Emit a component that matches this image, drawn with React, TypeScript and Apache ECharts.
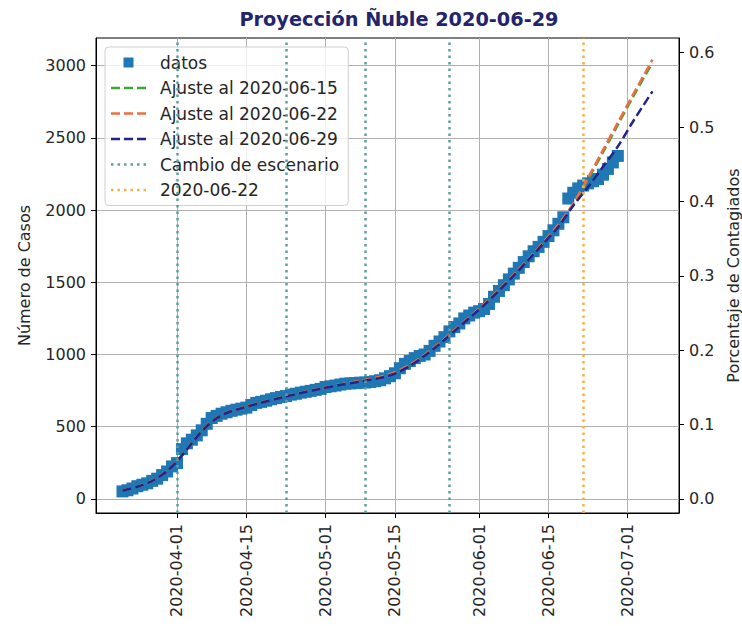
import React, { useEffect, useRef } from 'react';
import * as echarts from 'echarts';

// ---- Datos ----
const inicioDatos = '2020-03-21';
const casos = [
  52, 60, 72, 88, 98, 108, 125, 140, 165, 190, 225,
  248, 345, 385, 410, 440, 475, 520, 560, 575, 590,
  600, 610, 618, 625, 632, 650, 665, 672, 680, 690,
  698, 706, 712, 722, 728, 736, 742, 748, 755, 762,
  775, 780, 785, 792, 798, 800, 802, 805, 806, 810,
  815, 822, 835, 850, 870, 905, 935, 955, 975, 990,
  1000, 1025, 1060, 1090, 1120, 1160, 1190, 1215, 1250, 1270,
  1290, 1300, 1315, 1350, 1400, 1440, 1480, 1520, 1560, 1600,
  1640, 1680, 1715, 1745, 1780, 1820, 1860, 1905, 1950, 2080,
  2120, 2150, 2170, 2185, 2200, 2215, 2245, 2285, 2330, 2375,
];

const fechasAjuste = [
  '2020-03-21', '2020-03-24', '2020-03-27', '2020-03-30', '2020-04-01', '2020-04-03',
  '2020-04-05', '2020-04-07', '2020-04-09', '2020-04-11', '2020-04-14', '2020-04-18',
  '2020-04-22', '2020-04-26', '2020-04-30', '2020-05-04', '2020-05-08', '2020-05-12',
  '2020-05-15', '2020-05-18', '2020-05-21', '2020-05-24', '2020-05-27', '2020-05-30',
  '2020-06-02', '2020-06-05', '2020-06-08', '2020-06-11', '2020-06-14', '2020-06-17',
  '2020-06-20', '2020-06-23', '2020-06-26', '2020-06-29', '2020-07-02', '2020-07-06',
];
const ajuste0615 = [
  58, 85, 125, 195, 262, 345, 430, 505, 560, 597, 630, 668,
  703, 735, 765, 793, 818, 845, 876, 928, 997, 1077, 1167, 1257,
  1347, 1447, 1552, 1662, 1777, 1897, 2040, 2215, 2400, 2590, 2780, 3020,
];
const ajuste0622 = [
  58, 85, 125, 195, 262, 345, 430, 505, 560, 597, 630, 668,
  703, 735, 765, 793, 818, 846, 877, 929, 998, 1078, 1168, 1258,
  1348, 1448, 1553, 1663, 1778, 1900, 2045, 2225, 2415, 2605, 2795, 3042,
];
const ajuste0629 = [
  57, 84, 124, 194, 260, 343, 428, 503, 558, 595, 628, 666,
  701, 733, 763, 790, 813, 838, 868, 920, 992, 1072, 1162, 1252,
  1342, 1442, 1547, 1657, 1770, 1885, 2030, 2160, 2300, 2440, 2610, 2822,
];

const cambiosEscenario = ['2020-04-01', '2020-04-23', '2020-05-09', '2020-05-26'];
const fechaCorte = ['2020-06-22'];

const ticksFechas = ['2020-04-01', '2020-04-15', '2020-05-01', '2020-05-15', '2020-06-01', '2020-06-15', '2020-07-01'];
const ticksCasos = [0, 500, 1000, 1500, 2000, 2500, 3000];
const ticksPorcentaje = [0, 0.1, 0.2, 0.3, 0.4, 0.5, 0.6];
const poblacionCentesima = 5150; // casos por 1% de población

const DAY = 86400000;
const utc = (s: string) => {
  const [y, m, d] = s.split('-').map(Number);
  return Date.UTC(y, m - 1, d);
};

const FONT = 'DejaVu Sans';
const TXT = '#262626';

const ICON_DASH = 'path://M0,0h9v2.5h-9z M13,0h9v2.5h-9z M26,0h9v2.5h-9z';
const ICON_DOT =
  'path://M0,0h2.5v2.5h-2.5z M6.5,0h2.5v2.5h-2.5z M13,0h2.5v2.5h-2.5z M19.5,0h2.5v2.5h-2.5z M26,0h2.5v2.5h-2.5z M32.5,0h2.5v2.5h-2.5z';
const ICON_SQUARE = 'path://M0,0h10v10h-10z';

export default function App() {
  const ref = useRef<HTMLDivElement>(null);

  useEffect(() => {
    if (!ref.current) return;
    const chart = echarts.init(ref.current, undefined, { renderer: 'svg' });

    const t0 = utc(inicioDatos);
    const datos = casos.map((v, i) => [t0 + i * DAY, v]);
    const fa = fechasAjuste.map(utc);
    const mk = (arr: number[]) => arr.map((v, i) => [fa[i], v]);

    const xFirst = t0;
    const xLast = fa[fa.length - 1];
    const xPad = (xLast - xFirst) * 0.05;
    const allY = [...casos, ...ajuste0615, ...ajuste0622, ...ajuste0629];
    const yLo = Math.min(...allY);
    const yHi = Math.max(...allY);
    const yPad = (yHi - yLo) * 0.05;
    const yMin = yLo - yPad;
    const yMax = yHi + yPad;

    const labelStyle = { fontFamily: FONT, fontSize: 16, color: TXT };
    const dotted = [2.5, 4];
    const dashed = [9, 4];
    const teal = '#5f9ea0';
    const orangeDot = '#fbb040';

    const fitSeries = (name: string, data: number[], color: string) => ({
      name,
      type: 'line',
      data: mk(data),
      smooth: 0.3,
      symbol: 'none',
      showSymbol: false,
      itemStyle: { color },
      lineStyle: { color, width: 2.5, type: dashed },
      emphasis: { disabled: true },
      silent: true,
    });

    const vlineSeries = (name: string, dates: string[], color: string) => ({
      name,
      type: 'line',
      data: [],
      symbol: 'none',
      itemStyle: { color },
      lineStyle: { color, width: 2.5, type: dotted },
      markLine: {
        silent: true,
        symbol: ['none', 'none'],
        label: { show: false },
        lineStyle: { color, width: 2.5, type: dotted },
        emphasis: { disabled: true },
        data: dates.map((d) => ({ xAxis: utc(d) })),
      },
    });

    const option: any = {
      animation: false,
      useUTC: true,
      graphic: [
        {
          type: 'text',
          x: 399,
          y: 19,
          style: {
            text: 'Proyección Ñuble 2020-06-29',
            fill: '#24246e',
            font: `bold 19.3px "${FONT}"`,
            align: 'center',
            verticalAlign: 'middle',
          },
        },
      ],
      grid: {
        left: 96,
        right: 63,
        top: 38,
        bottom: 113,
        show: true,
        borderColor: '#000',
        borderWidth: 1,
        backgroundColor: 'transparent',
        outerBoundsMode: 'none',
      },
      legend: {
        orient: 'vertical',
        left: 105,
        top: 47,
        itemWidth: 35,
        itemHeight: 10,
        itemGap: 8.5,
        padding: [7, 9, 7, 6],
        backgroundColor: 'rgba(255,255,255,0.8)',
        borderColor: '#d0d0d0',
        borderWidth: 1,
        borderRadius: 4,
        selectedMode: false,
        textStyle: { ...labelStyle, fontSize: 17, padding: [0, 0, 0, 9] },
        data: [
          { name: 'datos', icon: ICON_SQUARE },
          { name: 'Ajuste al 2020-06-15', icon: ICON_DASH },
          { name: 'Ajuste al 2020-06-22', icon: ICON_DASH },
          { name: 'Ajuste al 2020-06-29', icon: ICON_DASH },
          { name: 'Cambio de escenario', icon: ICON_DOT },
          { name: '2020-06-22', icon: ICON_DOT },
        ],
      },
      xAxis: {
        type: 'value',
        min: xFirst - xPad,
        max: xLast + xPad,
        axisLine: { show: true, onZero: false, lineStyle: { color: '#000' } },
        axisTick: { show: true, length: 5, lineStyle: { color: '#000' }, customValues: ticksFechas.map(utc) },
        axisLabel: {
          ...labelStyle,
          rotate: 90,
          margin: 11,
          customValues: ticksFechas.map(utc),
          formatter: (v: number) => new Date(v).toISOString().slice(0, 10),
        },
        splitLine: { show: true, lineStyle: { color: '#b0b0b0', width: 1 } },
      },
      yAxis: [
        {
          type: 'value',
          position: 'left',
          min: yMin,
          max: yMax,
          name: 'Número de Casos',
          nameLocation: 'middle',
          nameRotate: 90,
          nameGap: 64,
          nameTextStyle: labelStyle,
          axisLine: { show: true, onZero: false, lineStyle: { color: '#000' } },
          axisTick: { show: true, length: 5, lineStyle: { color: '#000' }, customValues: ticksCasos },
          axisLabel: {
            ...labelStyle,
            margin: 10,
            customValues: ticksCasos,
            formatter: (v: number) => String(Math.round(v)),
          },
          splitLine: { show: true, lineStyle: { color: '#b0b0b0', width: 1 } },
        },
        {
          type: 'value',
          position: 'right',
          min: yMin / poblacionCentesima,
          max: yMax / poblacionCentesima,
          name: 'Porcentaje de Contagiados',
          nameLocation: 'middle',
          nameRotate: 90,
          nameGap: 44,
          nameTextStyle: labelStyle,
          axisLine: { show: true, onZero: false, lineStyle: { color: '#000' } },
          axisTick: { show: true, length: 5, lineStyle: { color: '#000' }, customValues: ticksPorcentaje },
          axisLabel: {
            ...labelStyle,
            margin: 10,
            customValues: ticksPorcentaje,
            formatter: (v: number) => v.toFixed(1),
          },
          splitLine: { show: false },
        },
      ],
      series: [
        vlineSeries('Cambio de escenario', cambiosEscenario, teal),
        vlineSeries('2020-06-22', fechaCorte, orangeDot),
        {
          name: 'datos',
          type: 'scatter',
          data: datos,
          symbol: 'rect',
          symbolSize: 12,
          itemStyle: { color: '#1f77b4', opacity: 1 },
          emphasis: { disabled: true },
          silent: true,
        },
        fitSeries('Ajuste al 2020-06-15', ajuste0615, '#3ca83c'),
        fitSeries('Ajuste al 2020-06-22', ajuste0622, '#ee6e3f'),
        fitSeries('Ajuste al 2020-06-29', ajuste0629, '#23238c'),
      ],
    };

    chart.setOption(option);
    return () => chart.dispose();
  }, []);

  return (
    <div
      ref={ref}
      style={{ position: 'fixed', left: 0, top: 0, width: 742, height: 626, background: '#fff' }}
    />
  );
}
